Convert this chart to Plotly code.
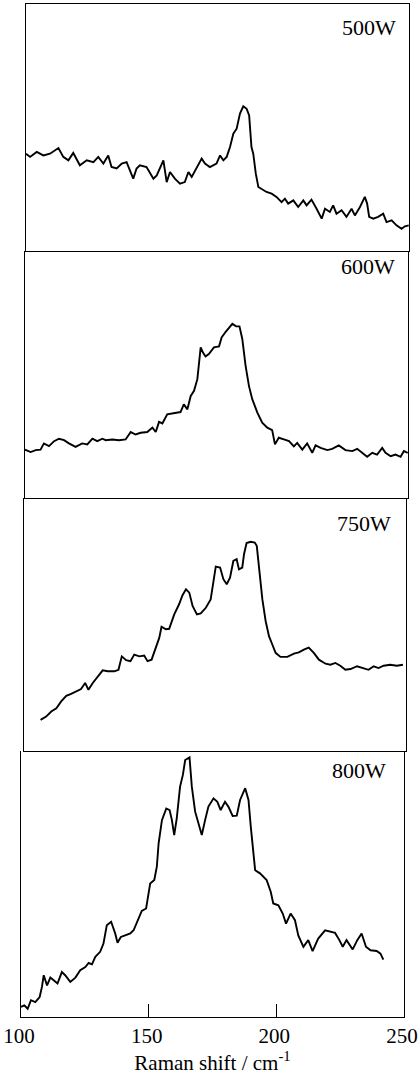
import plotly.graph_objects as go
from plotly.subplots import make_subplots

# Raman shift (cm^-1) and relative intensity (panel units 0-100)
x_500 = [100.0, 101.6, 104.2, 106.8, 109.4, 112.7, 114.6, 116.6, 118.5, 121.1, 123.8, 126.4, 128.3, 130.3,
         132.2, 133.5, 135.5, 137.5, 139.4, 142.0, 143.3, 144.6, 147.2, 149.9, 151.2, 152.5, 153.8, 155.1,
         156.4, 158.3, 160.3, 162.2, 163.6, 164.9, 166.8, 168.8, 170.1, 172.0, 174.6, 176.0, 177.3, 178.6,
         179.9, 181.2, 182.5, 183.8, 185.1, 186.4, 187.4, 188.3, 189.0, 190.0, 191.0, 192.3, 194.2, 196.2,
         198.1, 200.1, 201.4, 202.7, 204.7, 206.6, 208.6, 209.9, 211.8, 213.8, 215.8, 217.1, 219.0, 220.3,
         221.6, 223.6, 225.5, 227.5, 228.8, 230.8, 232.7, 233.6, 234.4, 236.0, 237.9, 239.9, 241.2, 243.2,
         245.1, 247.1, 248.4, 249.9]
y_500 = [39.4, 38.1, 40.1, 38.7, 39.4, 41.7, 38.1, 36.7, 39.7, 34.7, 36.7, 36.0, 38.1, 35.4,
         38.7, 34.0, 33.4, 35.4, 36.0, 29.3, 33.4, 34.7, 34.0, 29.3, 30.6, 33.4, 36.7, 27.9,
         32.0, 29.3, 27.3, 27.9, 32.0, 30.0, 33.4, 37.4, 35.4, 34.0, 35.4, 38.7, 36.7, 38.1,
         42.1, 47.5, 49.5, 55.6, 58.6, 57.6, 54.9, 42.1, 39.4, 31.3, 25.9, 25.2, 23.9, 23.2,
         21.9, 19.8, 21.2, 19.2, 20.5, 17.8, 20.5, 18.5, 20.8, 17.1, 13.1, 17.1, 15.8, 18.5,
         15.1, 16.5, 13.8, 17.1, 14.4, 17.8, 21.9, 19.2, 13.8, 13.1, 13.8, 15.1, 11.7, 12.4,
         10.4, 9.0, 10.0, 10.4]

x_600 = [100.0, 102.2, 104.2, 106.1, 107.4, 109.4, 111.4, 113.3, 115.3, 117.2,
         119.8, 122.4, 124.4, 126.4, 128.3, 130.3, 131.6, 134.2, 136.8, 139.4,
         141.4, 143.3, 145.3, 147.9, 149.9, 151.2, 152.5, 153.8, 155.7,
         158.3, 160.9, 162.2, 163.6, 164.9, 166.2, 167.5, 168.1, 168.8, 169.7,
         170.7, 172.0, 174.0, 176.0, 177.0, 178.6, 179.9, 181.2, 182.7, 184.0, 185.1, 186.4, 187.7, 189.0,
         191.0, 192.9, 194.9, 196.8, 197.9, 199.4, 201.4, 203.4, 205.3, 206.6,
         208.6, 210.5, 212.5, 213.8, 215.8, 218.4, 220.3, 222.9, 225.5, 228.2, 230.1,
         232.1, 234.0, 236.0, 237.9, 239.9, 241.2, 243.2, 245.1, 247.1, 248.4, 249.9]
y_600 = [19.6, 18.6, 19.4, 19.6, 22.1, 21.0, 23.0, 24.0, 23.4, 22.1,
         20.7, 22.1, 21.7, 24.0, 23.0, 24.0, 23.4, 23.7, 23.4, 23.7,
         26.7, 25.7, 26.4, 26.7, 28.5, 26.7, 30.8, 30.2, 33.9,
         34.3, 34.8, 37.9, 35.9, 41.3, 43.4, 48.1, 53.5, 61.0, 58.9,
         57.3, 58.3, 61.0, 61.4, 65.0, 67.3, 68.7, 70.5, 69.5, 69.5, 64.4, 53.5, 45.4, 40.0,
         34.6, 30.5, 28.5, 27.5, 21.7, 24.4, 23.7, 23.0, 20.9, 22.3,
         19.6, 22.1, 18.3, 21.3, 20.3, 19.4, 19.9, 21.3, 19.4, 19.0, 19.9,
         18.3, 16.7, 18.3, 17.6, 20.3, 18.3, 16.9, 17.6, 16.7, 19.0, 18.3]

x_750 = [106.5, 108.7, 110.7, 112.7, 114.6, 116.6, 118.5, 120.5, 122.4, 124.0,
         125.3, 127.0, 129.0, 130.9, 132.9, 135.5, 137.1, 138.4, 140.1, 141.8,
         143.3, 145.3, 147.2, 148.5, 150.1, 151.8, 153.1, 154.0, 155.7, 157.0,
         159.0, 160.9, 162.2, 163.6, 164.9, 166.2, 167.9, 169.4, 171.4, 173.3,
         175.3, 177.0, 178.3, 179.6, 180.9, 182.2, 183.5, 184.4, 185.7, 186.4,
         187.4, 189.0, 190.6, 191.4, 192.3, 193.6, 194.9, 196.2, 197.5, 198.8,
         200.7, 203.4, 206.0, 207.9, 209.9, 211.8, 213.8, 215.8, 218.4, 220.3,
         222.3, 224.2, 226.2, 228.2, 230.8, 232.7, 235.3, 237.3, 239.2, 241.2,
         243.8, 246.4, 248.8]
y_750 = [12.3, 13.6, 15.6, 16.9, 19.6, 21.8, 22.6, 23.5, 24.5, 26.9,
         24.2, 26.9, 29.5, 31.9, 31.5, 31.5, 32.1, 37.4, 35.9, 35.5,
         38.1, 37.4, 37.7, 35.5, 36.1, 41.4, 44.7, 49.1, 48.1, 48.3,
         54.0, 58.0, 61.5, 63.9, 62.6, 57.3, 54.0, 54.4, 56.6, 59.9,
         72.9, 72.5, 67.9, 65.9, 68.5, 75.1, 75.8, 71.8, 72.5, 77.8,
         82.2, 82.7, 82.4, 81.1, 71.8, 59.9, 51.3, 45.4, 42.1, 38.8,
         37.2, 37.2, 38.5, 39.0, 40.1, 40.9, 38.8, 36.1, 34.5, 34.1,
         34.8, 33.7, 32.1, 32.4, 33.5, 32.8, 32.1, 33.5, 32.8, 33.7,
         34.1, 33.7, 34.1]

x_800 = [100.0, 101.3, 102.6, 103.9, 105.6, 107.3, 108.2, 108.9, 110.2, 111.5, 112.8, 114.3, 116.0,
         117.3, 119.3, 121.3, 123.2, 125.2, 126.5, 127.8, 129.1, 131.0, 132.3, 133.6, 135.3, 136.9,
         137.8, 139.1, 140.8, 142.8, 144.1, 145.6, 147.3, 149.0, 150.6, 152.2, 153.2, 153.9, 155.2,
         156.9, 158.2, 159.1, 160.0, 161.0, 162.3, 163.4, 164.3, 166.0, 166.9, 168.2, 169.9, 170.8,
         172.1, 173.4, 175.4, 176.9, 178.2, 179.9, 181.2, 182.9, 184.5, 185.8, 187.8, 189.1, 190.0,
         191.7, 193.6, 195.2, 196.2, 197.8, 198.8, 200.8, 202.5, 203.8, 205.6, 207.3, 208.6, 210.6,
         212.5, 214.2, 216.4, 219.1, 221.0, 223.0, 224.7, 226.0, 227.5, 229.9, 231.7, 233.4, 235.1,
         236.9, 239.3, 240.8, 241.9]
y_800 = [3.8, 4.4, 3.1, 6.3, 5.6, 7.5, 11.3, 15.7, 11.9, 14.8, 13.8, 12.6, 16.9,
         15.7, 13.2, 14.8, 17.6, 18.8, 20.3, 19.8, 22.6, 24.5, 27.6, 34.5, 35.8, 31.4,
         27.9, 30.1, 30.7, 31.4, 32.6, 35.8, 39.9, 40.8, 50.2, 51.5, 56.5, 65.3, 74.0,
         78.4, 77.8, 74.0, 68.4, 74.7, 86.6, 91.0, 96.6, 97.6, 86.6, 77.2, 70.9, 68.4,
         74.0, 79.1, 82.2, 80.9, 77.8, 80.9, 79.1, 75.6, 75.7, 81.6, 86.0, 81.6, 71.5,
         55.2, 54.0, 52.5, 51.5, 47.1, 42.7, 42.0, 38.9, 35.1, 38.9, 36.4, 30.7, 26.4,
         28.9, 24.8, 29.5, 32.6, 32.0, 31.6, 28.9, 26.4, 28.9, 25.4, 28.9, 31.4, 26.4,
         25.1, 24.8, 23.8, 21.6]

panel_labels = ["500W", "600W", "750W", "800W"]
label_x = [245.7, 245.7, 244.9, 243.7]
label_y = [90.5, 93.9, 90.0, 92.5]
x_ticks = [100, 150, 200, 250]
x_title = "Raman shift / cm<sup>-1</sup>"

series = [(x_500, y_500), (x_600, y_600), (x_750, y_750), (x_800, y_800)]

fig = make_subplots(rows=4, cols=1, shared_xaxes=True, vertical_spacing=0)
for i, (xs, ys) in enumerate(series):
    fig.add_trace(go.Scatter(x=xs, y=ys, mode="lines",
                             line=dict(color="black", width=1.9),
                             showlegend=False, hoverinfo="skip"), row=i + 1, col=1)

W, H = 418, 1075
left, right = 20, 410
top, bottom = 4, 1017
plot_w = right - left
plot_h = bottom - top
edges_px = [4, 251, 498, 751, 1017]
# slight skew of the scanned panels: left/right frame edges per panel (px)
x_edges_px = [(26, 409), (25, 408), (24, 406), (21, 404)]
font = "Liberation Serif, Times New Roman, serif"
for i in range(4):
    d0 = (bottom - edges_px[i + 1]) / plot_h
    d1 = (bottom - edges_px[i]) / plot_h
    xd0 = (x_edges_px[i][0] - left) / plot_w
    xd1 = (x_edges_px[i][1] - left) / plot_w
    yname = "yaxis" if i == 0 else f"yaxis{i + 1}"
    xname = "xaxis" if i == 0 else f"xaxis{i + 1}"
    fig.layout[yname].update(domain=[d0, d1], range=[0, 100], showticklabels=False,
                             ticks="", showgrid=False, zeroline=False, automargin=False,
                             showline=True, mirror=True, linecolor="black", linewidth=1.3)
    fig.layout[xname].update(domain=[xd0, xd1], range=[100, 250], showgrid=False,
                             zeroline=False, automargin=False,
                             showline=True, mirror=(i == 0), linecolor="black", linewidth=1.3,
                             showticklabels=(i == 3), ticks="inside" if i == 3 else "",
                             tickvals=x_ticks, ticklen=13, tickwidth=1.2, tickcolor="black",
                             ticklabeloverflow="allow",
                             tickfont=dict(family=font, size=21, color="black"))
    xref = "x" if i == 0 else f"x{i + 1}"
    yref = "y" if i == 0 else f"y{i + 1}"
    fig.add_annotation(x=label_x[i], y=label_y[i], xref=xref, yref=yref,
                       text=panel_labels[i], showarrow=False, xanchor="right", yanchor="middle",
                       font=dict(family=font, size=22, color="black"))

fig.layout.xaxis4.update(ticklabelshift=-2,
                         title=dict(text=x_title, font=dict(family=font, size=21, color="black"),
                                    standoff=4))

fig.update_layout(template="none", width=W, height=H,
                  margin=dict(l=left, r=W - right, t=top, b=H - bottom),
                  plot_bgcolor="white", paper_bgcolor="white")

fig.write_html("out.html", config={"displayModeBar": False},
               post_script="document.body.style.margin='0';document.body.style.padding='0';")
